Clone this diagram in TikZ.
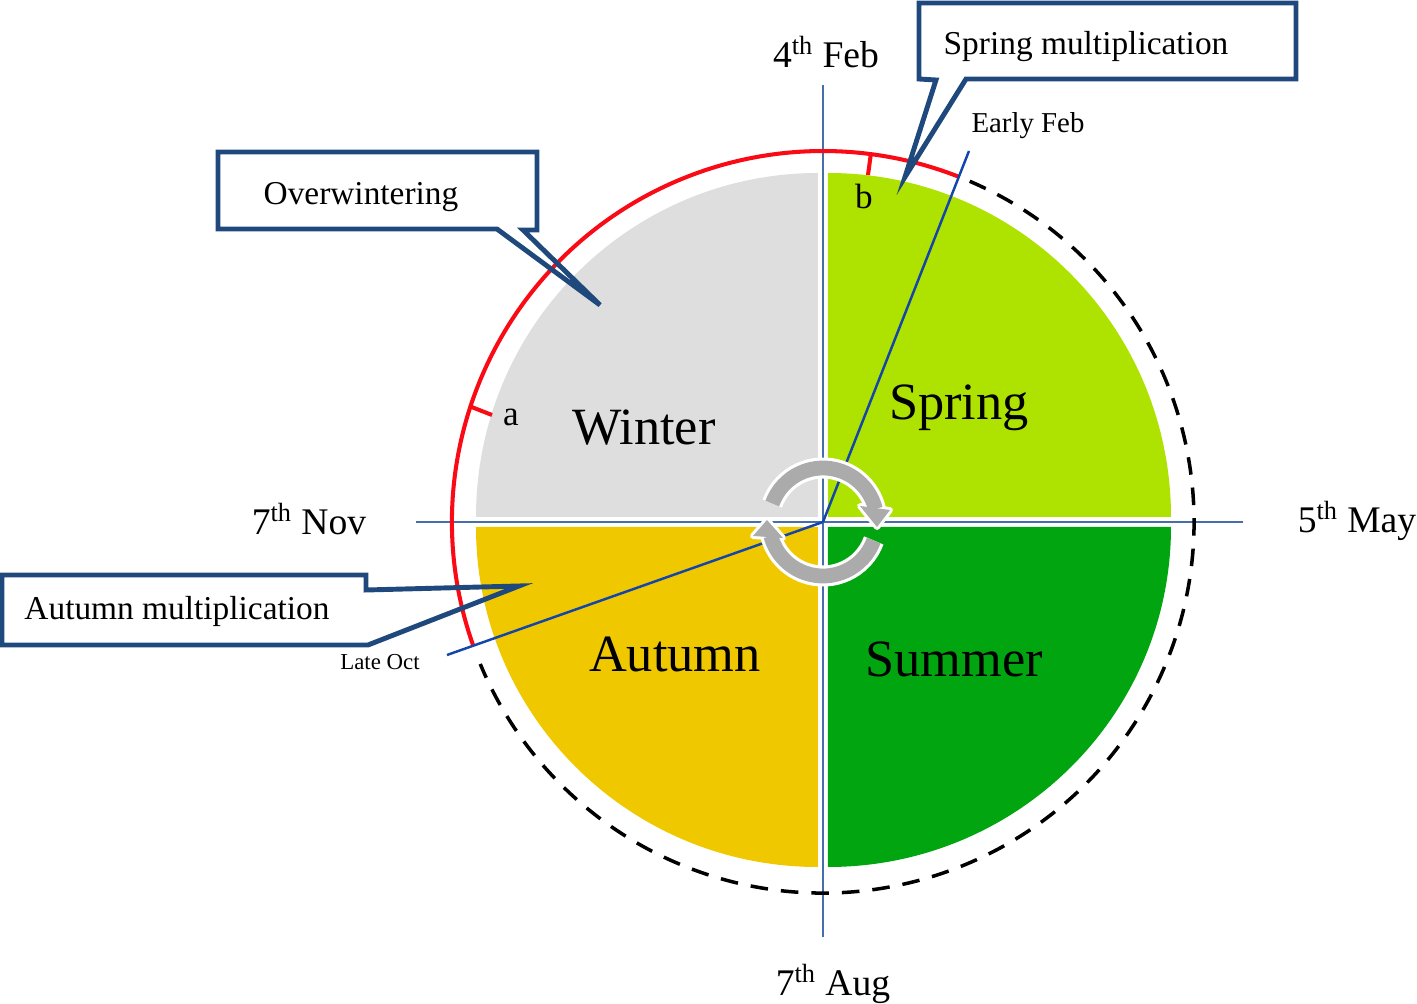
\documentclass[tikz,border=0pt]{standalone}
\usepackage{fontspec}
\setmainfont{Liberation Serif}
\tikzset{
  axis/.style={line width=0.9pt,color=axisblue},
  datemark/.style={line width=1.4pt,color=dateblue},
  callout/.style={line width=2.8pt,color=calloutblue,line join=miter},
  redmark/.style={line width=2.3pt,color=markred},
  seasonlabel/.style={font=\fontsize{29.8}{32}\selectfont},
  datelabel/.style={font=\fontsize{21.4}{24}\selectfont},
  calloutlabel/.style={font=\fontsize{19}{22}\selectfont},
  cycleedge/.style={line width=12pt,color=white},
  cyclearc/.style={line width=8.4pt,color=cyclegrey},
}
\begin{document}
\begin{tikzpicture}[x=0.02cm,y=0.02cm]
\definecolor{axisblue}{RGB}{70,110,170}
\definecolor{dateblue}{RGB}{20,70,170}
\definecolor{calloutblue}{RGB}{31,73,125}
\definecolor{markred}{RGB}{250,10,20}
\definecolor{wintergrey}{RGB}{222,222,222}
\definecolor{springlime}{RGB}{174,226,0}
\definecolor{summergreen}{RGB}{0,165,16}
\definecolor{autumngold}{RGB}{240,200,0}
\definecolor{cyclegrey}{RGB}{171,171,171}
\useasboundingbox (-823,-482) rectangle (594,522);
\coordinate (Centre) at (0,0);
\coordinate (EarlyFeb) at (146,371);
\coordinate (LateOct) at (-376,-133);
\coordinate (NorthEnd) at (0,437);
\coordinate (SouthEnd) at (0,-415);
\coordinate (WestEnd) at (-407,0);
\coordinate (EastEnd) at (420,0);

\fill[color=wintergrey] (-5,5) -- (-347,5) arc[start angle=180,end angle=90,x radius=342,y radius=344] -- cycle; % Winter
\fill[color=springlime] (5,5) -- (5,349) arc[start angle=90,end angle=0,x radius=343,y radius=344] -- cycle; % Spring
\fill[color=summergreen] (5,-5) -- (348,-5) arc[start angle=0,end angle=-90,x radius=343,y radius=340] -- cycle; % Summer
\fill[color=autumngold] (-5,-5) -- (-5,-345) arc[start angle=-90,end angle=-180,x radius=342,y radius=340] -- cycle; % Autumn

\draw[axis] (NorthEnd) -- (SouthEnd);
\draw[axis] (WestEnd) -- (EastEnd);

\draw[line width=2pt,dash pattern=on 10pt off 7.4pt] (66.7:371) arc[start angle=66.7,end angle=-157.5,radius=371]; % rest of the year
\draw[redmark] (199.4:371) arc[start angle=199.4,end angle=68.5,radius=371]; % red arc
\draw[redmark] (-354,116) -- (-331,107); % a
\draw[redmark] (48,369) -- (45,347); % b

\draw[callout] (-605,370) -- (-286,370) -- (-286,292) -- (-300,292) -- (-223,217) -- (-326,293) -- (-605,293) -- cycle; % Overwintering
\draw[callout] (96,519) -- (473,519) -- (473,443) -- (143,443) -- (82,345) -- (113,442) -- (96,443) -- cycle; % Spring multiplication
\draw[callout] (-821,-53) -- (-457,-53) -- (-457,-68) -- (-304,-64) -- (-455,-123) -- (-821,-123) -- cycle; % Autumn multiplication

\draw[datemark] (Centre) -- (EarlyFeb);
\draw[datemark] (Centre) -- (LateOct);

\draw[cycleedge] (160:54) arc[start angle=160,end angle=14,radius=54];
\draw[cycleedge] (-20:54) arc[start angle=-20,end angle=-165,radius=54];
\draw[color=white,line width=3.4pt,line join=round] (37,16) -- (67,12) -- (54,-5) -- cycle;
\draw[color=white,line width=3.4pt,line join=round] (-70,-14) -- (-40,-16) -- (-56,2) -- cycle;
\draw[cyclearc] (160:54) arc[start angle=160,end angle=14,radius=54];
\draw[cyclearc] (-20:54) arc[start angle=-20,end angle=-165,radius=54];
\fill[color=cyclegrey] (37,16) -- (67,12) -- (54,-5) -- cycle;
\fill[color=cyclegrey] (-70,-14) -- (-40,-16) -- (-56,2) -- cycle;

\node[seasonlabel] (Winter) at (-179,94) {Winter};
\node[seasonlabel] (Spring) at (136,114) {Spring};
\node[seasonlabel] (Autumn) at (-148,-132) {Autumn};
\node[seasonlabel] (Summer) at (131,-137) {Summer};
\node[datelabel] (Feb) at (3,470) {4\textsuperscript{th} Feb};
\node[datelabel] (May) at (534,1) {5\textsuperscript{th} May};
\node[datelabel] (Aug) at (10,-462) {7\textsuperscript{th} Aug};
\node[datelabel] (Nov) at (-514,3) {7\textsuperscript{th} Nov};
\node[calloutlabel] (Overwintering) at (-462,325) {Overwintering};
\node[calloutlabel] (SpringMult) at (263,475) {Spring multiplication};
\node[calloutlabel] (AutumnMult) at (-646,-89) {Autumn multiplication};
\node[font=\fontsize{16.4}{19}\selectfont] (EarlyFebLabel) at (205,396) {Early Feb};
\node[font=\fontsize{13}{15}\selectfont] (LateOctLabel) at (-443,-140) {Late Oct};
\node[font=\fontsize{20}{23}\selectfont] (a) at (-312,105) {a};
\node[font=\fontsize{20}{23}\selectfont] (b) at (41,326) {b};
\end{tikzpicture}
\end{document}
